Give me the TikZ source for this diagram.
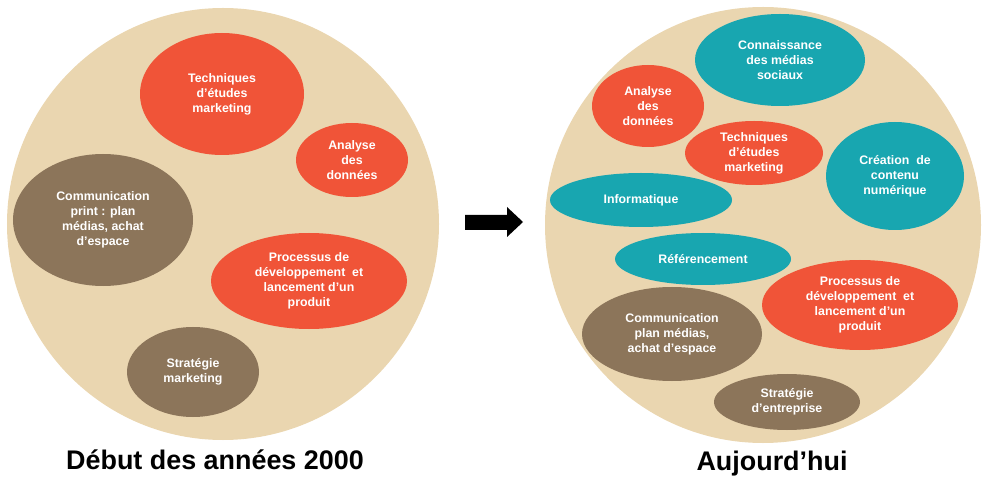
\documentclass[tikz,border=0pt]{standalone}
\usepackage{fontspec}
\setmainfont{Liberation Sans}
\usetikzlibrary{shapes.geometric}
\definecolor{beige}{RGB}{234,214,176}
\definecolor{orng}{RGB}{240,84,56}
\definecolor{brwn}{RGB}{140,117,90}
\definecolor{teal2}{RGB}{24,166,176}
\tikzset{
  big/.style={circle,fill=beige,inner sep=0},
  bub/.style={ellipse,inner sep=0,text=white,align=center,
    font=\fontsize{12.4}{15}\selectfont\bfseries},
  ob/.style={bub,fill=orng},
  bb/.style={bub,fill=brwn},
  tb/.style={bub,fill=teal2},
  ttl/.style={font=\fontsize{27}{30}\selectfont\bfseries,text=black}
}
\begin{document}
\begin{tikzpicture}[x=1bp,y=-1bp]
\useasboundingbox (0,0) rectangle (990,483);
% left
\node[big,minimum size=432bp] (L) at (223,224) {};
\node[ob,minimum width=164bp,minimum height=122bp] (l1) at (222,94) {Techniques\\d'études\\marketing};
\node[ob,minimum width=112bp,minimum height=74bp] (l2) at (352,160) {Analyse\\des\\données};
\node[bb,minimum width=180bp,minimum height=132bp] (l3) at (103,220) {Communication\\print : plan\\médias, achat\\d'espace};
\node[ob,minimum width=196bp,minimum height=96bp] (l4) at (309,281) {Processus de\\développement\ \ et\\lancement d'un\\produit};
\node[bb,minimum width=132bp,minimum height=90bp] (l5) at (193,372) {Stratégie\\marketing};
\node[ttl] (lt) at (215,460) {Début des années 2000};
% arrow
\fill[black] (465,215) -- (507,215) -- (507,207) -- (523,222) -- (507,237) -- (507,230) -- (465,230) -- cycle;
% right
\node[big,minimum size=436bp] (R) at (763,225) {};
\node[tb,minimum width=170bp,minimum height=92bp] (r1) at (780,60) {Connaissance\\des médias\\sociaux};
\node[ob,minimum width=112bp,minimum height=82bp] (r2) at (648,106) {Analyse\\des\\données};
\node[ob,minimum width=138bp,minimum height=64bp] (r3) at (754,153) {Techniques\\d'études\\marketing};
\node[tb,minimum width=138bp,minimum height=108bp] (r4) at (895,176) {Création\ \ de\\contenu\\numérique};
\node[tb,minimum width=182bp,minimum height=54bp] (r5) at (641,200) {Informatique};
\node[tb,minimum width=176bp,minimum height=52bp] (r6) at (703,259) {Référencement};
\node[ob,minimum width=196bp,minimum height=90bp] (r7) at (860,305) {Processus de\\développement\ \ et\\lancement d'un\\produit};
\node[bb,minimum width=180bp,minimum height=94bp] (r8) at (672,334) {Communication\\plan médias,\\achat d'espace};
\node[bb,minimum width=146bp,minimum height=56bp] (r9) at (787,402) {Stratégie\\d'entreprise};
\node[ttl] (rt) at (772,464) {Aujourd’hui};
\end{tikzpicture}
\end{document}
